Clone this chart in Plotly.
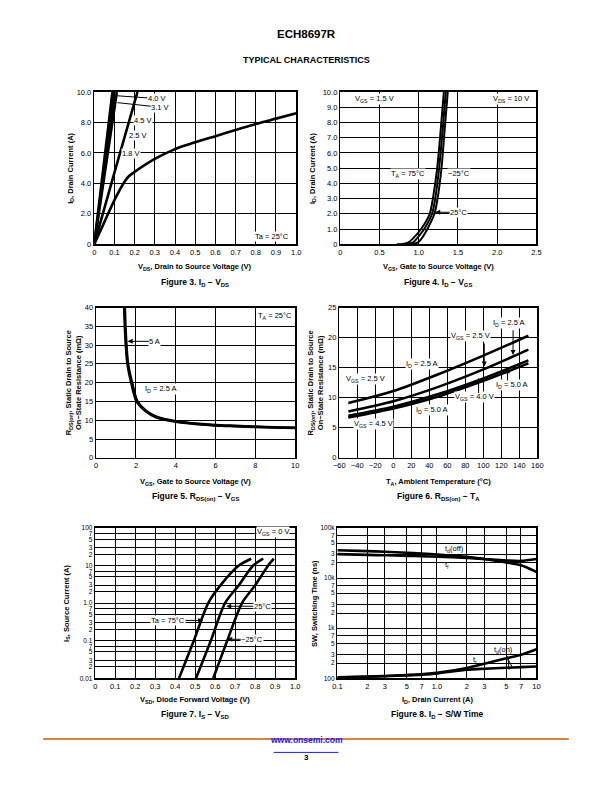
import plotly.graph_objects as go

FONT = "Liberation Sans, Arial, Helvetica, sans-serif"
W, H = 612, 792

# ---------------- DATA ----------------
# Figure 3: ID - VDS (Ta = 25 C)
f3_vds_18 = [0, 0.05, 0.10, 0.15, 0.17, 0.20, 0.30, 0.40, 0.50, 0.60, 0.70, 0.80, 0.90, 1.00]
f3_id_18 = [0, 1.45, 2.9, 4.1, 4.45, 4.75, 5.6, 6.25, 6.7, 7.1, 7.5, 7.9, 8.25, 8.6]
f3_vds_25 = [0, 0.10, 0.20, 0.214]
f3_id_25 = [0, 4.7, 9.35, 10.0]
f3_vds_31 = [0, 0.112]
f3_id_31 = [0, 10.0]
f3_vds_40 = [0, 0.100]
f3_id_40 = [0, 10.0]
f3_vds_45 = [0, 0.090]
f3_id_45 = [0, 10.0]

# Figure 4: ID - VGS (VDS = 10 V)
f4_id = [0, 0.02, 0.12, 0.4, 1.0, 2.0, 3.0, 5.0, 7.5, 10.0]
f4_vgs_75 = [0.72, 0.80, 0.87, 0.93, 1.03, 1.14, 1.18, 1.235, 1.28, 1.32]
f4_vgs_25 = [0.78, 0.86, 0.93, 0.98, 1.07, 1.17, 1.21, 1.26, 1.305, 1.345]
f4_vgs_m25 = [0.84, 0.92, 0.99, 1.04, 1.11, 1.20, 1.24, 1.29, 1.33, 1.37]

# Figure 5: RDS(on) - VGS
f5_vgs_5a = [1.44, 1.47, 1.52, 1.60, 1.80, 2.07, 2.5, 3, 4, 5, 6, 7, 8, 9, 10]
f5_r_5a = [40, 35, 30, 25, 20, 15, 12.5, 11, 9.7, 9.1, 8.7, 8.5, 8.3, 8.1, 8.0]
f5_vgs_25a = [1.41, 1.44, 1.49, 1.57, 1.76, 2.03, 2.46, 3, 4, 5, 6, 7, 8, 9, 10]
f5_r_25a = [40, 35, 30, 25, 20, 15, 12.5, 10.8, 9.6, 9.0, 8.6, 8.4, 8.2, 8.05, 7.95]

# Figure 6: RDS(on) - TA
f6_ta = [-50, 0, 50, 100, 150]
f6_r_a = [9.1, 11.1, 13.9, 17.0, 20.3]
f6_r_b = [7.7, 9.4, 11.8, 14.7, 18.0]
f6_r_c = [7.0, 8.5, 10.6, 13.2, 16.2]
f6_r_d = [6.7, 8.2, 10.2, 12.8, 15.7]

# Figure 7: IS - VSD (VGS = 0 V)
f7_is = [0.01, 0.1, 1.0, 3.0, 10.0, 15.2]
f7_vsd_75 = [0.419, 0.493, 0.565, 0.627, 0.718, 0.78]
f7_vsd_25 = [0.504, 0.578, 0.649, 0.718, 0.79, 0.84]
f7_vsd_m25 = [0.59, 0.66, 0.734, 0.80, 0.865, 0.893]

# Figure 8: ID - S/W time
f8_id = [0.1, 0.2, 0.3, 0.5, 0.7, 1, 2, 3, 5, 7, 10]
f8_t_a = [36000, 34500, 33500, 32000, 31000, 29500, 26500, 24000, 20500, 18000, 13300]
f8_t_b = [30000, 29000, 28500, 27800, 27300, 26800, 25300, 24000, 22500, 22000, 24000]
f8_t_c = [104, 108, 111, 116, 120, 128, 160, 195, 250, 295, 380]
f8_t_d = [103, 107, 110, 114, 118, 125, 148, 155, 162, 167, 172]

# tick labels
f3_xt = [0, 0.1, 0.2, 0.3, 0.4, 0.5, 0.6, 0.7, 0.8, 0.9, 1.0]
f3_xl = ["0", "0.1", "0.2", "0.3", "0.4", "0.5", "0.6", "0.7", "0.8", "0.9", "1.0"]
f3_yt = [0, 2, 4, 6, 8, 10]
f3_yl = ["0", "2.0", "4.0", "6.0", "8.0", "10.0"]
f4_xt = [0, 0.5, 1.0, 1.5, 2.0, 2.5]
f4_xl = ["0", "0.5", "1.0", "1.5", "2.0", "2.5"]
f4_yt = [0, 1, 2, 3, 4, 5, 6, 7, 8, 9, 10]
f4_yl = ["0", "1.0", "2.0", "3.0", "4.0", "5.0", "6.0", "7.0", "8.0", "9.0", "10.0"]
f7_yt = [0.01, 0.02, 0.03, 0.05, 0.07, 0.1, 0.2, 0.3, 0.5, 0.7, 1, 2, 3, 5, 7,
         10, 20, 30, 50, 70, 100]
f7_yl = ["0.01", "2", "3", "5", "7", "0.1", "2", "3", "5", "7", "1.0", "2", "3", "5", "7",
         "10", "2", "3", "5", "7", "100"]
f8_xt = [0.1, 0.2, 0.3, 0.5, 0.7, 1, 2, 3, 5, 7, 10]
f8_xl = ["0.1", "2", "3", "5", "7", "1.0", "2", "3", "5", "7", "10"]
f8_yt = [100, 200, 300, 500, 700, 1000, 2000, 3000, 5000, 7000, 10000,
         20000, 30000, 50000, 70000, 100000]
f8_yl = ["100", "2", "3", "5", "7", "1k", "2", "3", "5", "7", "10k", "2", "3", "5", "7", "100k"]

# ---------------- LAYOUT HELPERS ----------------
def px(x):
    return x / W

def py(y):
    return 1 - y / H

boxes = [
    (90, 296, 89, 243),
    (341, 541, 89, 243),
    (92, 295, 307, 459),
    (340, 542, 307, 459),
    (91, 295, 530, 682),
    (338, 541, 530, 682),
]

def ax_common(fs=7.5):
    return dict(showgrid=True, gridcolor="black", gridwidth=1, showline=True,
                linecolor="black", linewidth=1.5, mirror=True, ticks="",
                zeroline=False, fixedrange=True,
                tickfont=dict(family=FONT, size=fs, color="black"))

fig = go.Figure()

def line(xs, ys, k, w=2.6):
    fig.add_trace(go.Scatter(x=xs, y=ys, mode="lines",
                             line=dict(color="black", width=w, shape="spline", smoothing=0.8),
                             xaxis="x" + ("" if k == 1 else str(k)),
                             yaxis="y" + ("" if k == 1 else str(k)),
                             showlegend=False, hoverinfo="skip"))

line(f3_vds_18, f3_id_18, 1)
line(f3_vds_25, f3_id_25, 1)
line(f3_vds_31, f3_id_31, 1)
line(f3_vds_40, f3_id_40, 1)
line(f3_vds_45, f3_id_45, 1)

line(f4_vgs_75, f4_id, 2, 2)
line(f4_vgs_25, f4_id, 2, 2)
line(f4_vgs_m25, f4_id, 2, 2)

line(f5_vgs_5a, f5_r_5a, 3)
line(f5_vgs_25a, f5_r_25a, 3)

line(f6_ta, f6_r_a, 4)
line(f6_ta, f6_r_b, 4)
line(f6_ta, f6_r_c, 4)
line(f6_ta, f6_r_d, 4)

line(f7_vsd_75, f7_is, 5)
line(f7_vsd_25, f7_is, 5)
line(f7_vsd_m25, f7_is, 5)

line(f8_id, f8_t_a, 6)
line(f8_id, f8_t_b, 6)
line(f8_id, f8_t_c, 6)
line(f8_id, f8_t_d, 6)

layout = dict(width=W, height=H, margin=dict(l=0, r=0, t=0, b=0),
              paper_bgcolor="white", plot_bgcolor="white", showlegend=False)

axis_specs = [
    (dict(range=[0, 1.0], tickvals=f3_xt, ticktext=f3_xl),
     dict(range=[0, 10], tickvals=f3_yt, ticktext=f3_yl)),
    (dict(range=[0, 2.5], tickvals=f4_xt, ticktext=f4_xl),
     dict(range=[0, 10], tickvals=f4_yt, ticktext=f4_yl)),
    (dict(range=[0, 10], dtick=2, tick0=0),
     dict(range=[0, 40], dtick=5, tick0=0)),
    (dict(range=[-60, 160], dtick=20, tick0=-60),
     dict(range=[0, 25], dtick=5, tick0=0)),
    (dict(range=[0, 1.0], tickvals=f3_xt, ticktext=f3_xl),
     dict(type="log", range=[-2, 2], tickvals=f7_yt, ticktext=f7_yl,
          tickfont=dict(family=FONT, size=6.5, color="black"))),
    (dict(type="log", range=[-1, 1], tickvals=f8_xt, ticktext=f8_xl),
     dict(type="log", range=[2, 5], tickvals=f8_yt, ticktext=f8_yl,
          tickfont=dict(family=FONT, size=6.5, color="black"))),
]

for i, ((x0, x1, y0, y1), (xs, ys)) in enumerate(zip(boxes, axis_specs), start=1):
    sx = "" if i == 1 else str(i)
    xa = ax_common(); xa.update(xs)
    ya = ax_common(); ya.update(ys)
    xa.update(domain=[px(x0), px(x1)], anchor="y" + sx)
    ya.update(domain=[py(y1), py(y0)], anchor="x" + sx)
    layout["xaxis" + sx] = xa
    layout["yaxis" + sx] = ya

fig.update_layout(**layout)

ann = []

def T(xr, yr, x, y, s, size=7.5, bg=True, bold=False, angle=0, xanchor="center"):
    ann.append(dict(xref=xr, yref=yr, x=x, y=y, text=("<b>%s</b>" % s) if bold else s,
                    showarrow=False, textangle=angle, xanchor=xanchor, yanchor="middle",
                    font=dict(family=FONT, size=size, color="black"),
                    bgcolor="white" if bg else "rgba(0,0,0,0)", borderpad=0))

def A(xr, yr, tx, ty, hx, hy, s="", head=2, bg=True):
    ann.append(dict(xref=xr, yref=yr, x=hx, y=hy, ax=tx, ay=ty, axref=xr, ayref=yr,
                    text=s, showarrow=True, arrowhead=head, arrowsize=1, arrowwidth=1,
                    arrowcolor="black", standoff=0, startstandoff=0,
                    font=dict(family=FONT, size=7.5, color="black"),
                    bgcolor="white" if (bg and s) else "rgba(0,0,0,0)", borderpad=0))

# Figure 3 labels
A("x", "y", 0.31, 9.57, 0.115, 9.75, "4.0 V", head=0)
A("x", "y", 0.327, 9.0, 0.115, 9.3, "3.1 V", head=0)
T("x", "y", 0.19, 8.14, "4.5 V", xanchor="left")
T("x", "y", 0.165, 7.13, "2.5 V", xanchor="left")
T("x", "y", 0.135, 5.98, "1.8 V", xanchor="left")
T("x", "y", 0.88, 0.54, "Ta = 25°C")

# Figure 4 labels
T("x2", "y2", 0.44, 9.57, "V<sub>GS</sub> = 1.5 V")
T("x2", "y2", 2.18, 9.57, "V<sub>DS</sub> = 10 V")
T("x2", "y2", 0.86, 4.64, "T<sub>A</sub> = 75°C")
T("x2", "y2", 1.51, 4.64, "−25°C")
A("x2", "y2", 1.51, 2.1, 1.21, 2.1, "25°C")

# Figure 5 labels
A("x3", "y3", 2.95, 31.0, 1.58, 31.0, "5 A")
T("x3", "y3", 3.27, 18.4, "I<sub>D</sub> = 2.5 A")
T("x3", "y3", 8.99, 37.8, "T<sub>A</sub> = 25°C")

# Figure 6 labels
T("x4", "y4", 129, 22.4, "I<sub>D</sub> = 2.5 A")
A("x4", "y4", 133, 21.3, 133, 17.1)
T("x4", "y4", 85.8, 20.2, "V<sub>GS</sub> = 2.5 V")
A("x4", "y4", 101, 19.1, 101, 15.2)
T("x4", "y4", 31.6, 15.6, "I<sub>D</sub> = 2.5 A")
T("x4", "y4", -30.8, 13.1, "V<sub>GS</sub> = 2.5 V")
T("x4", "y4", 131.4, 12.1, "I<sub>D</sub> = 5.0 A")
A("x4", "y4", 126.8, 12.8, 126.8, 14.9)
T("x4", "y4", 90.4, 10.1, "V<sub>GS</sub> = 4.0 V")
A("x4", "y4", 94.7, 10.7, 94.7, 13.3)
T("x4", "y4", 43, 7.9, "I<sub>D</sub> = 5.0 A")
T("x4", "y4", -21.9, 5.6, "V<sub>GS</sub> = 4.5 V")

# Figure 7 labels (log y -> log10 coords)
T("x5", "y5", 0.89, 1.894, "V<sub>GS</sub> = 0 V")
A("x5", "y5", 0.835, -0.083, 0.655, -0.083, "25°C")
A("x5", "y5", 0.365, -0.46, 0.54, -0.46, "Ta = 75°C")
A("x5", "y5", 0.785, -0.963, 0.66, -0.963, "−25°C")

# Figure 8 labels (log-log)
T("x6", "y6", 0.172, 4.585, "t<sub>d</sub>(off)", bg=False)
T("x6", "y6", 0.10, 4.255, "t<sub>f</sub>", bg=False)
T("x6", "y6", 0.665, 2.56, "t<sub>d</sub>(on)", bg=False)
T("x6", "y6", 0.382, 2.37, "t<sub>r</sub>", bg=False)
A("x6", "y6", 0.711, 2.45, 0.727, 2.17, head=0)
A("x6", "y6", 0.711, 2.40, 0.76, 2.21, head=0)

# Axis titles (paper coords)
xt = [
    (193, 266, "V<sub>DS</sub>, Drain to Source Voltage (V)"),
    (441, 266, "V<sub>GS</sub>, Gate to Source Voltage (V)"),
    (193, 483, "V<sub>GS</sub>, Gate to Source Voltage (V)"),
    (441, 483, "T<sub>A</sub>, Ambient Temperature (°C)"),
    (193, 704, "V<sub>SD</sub>, Diode Forward Voltage (V)"),
    (440, 704, "I<sub>D</sub>, Drain Current (A)"),
]
for x, y, s in xt:
    T("paper", "paper", px(x), py(y), s, size=7.5, bg=False, bold=True)

yt = [
    (66, 166, "I<sub>D</sub>, Drain Current (A)"),
    (313, 166, "I<sub>D</sub>, Drain Current (A)"),
    (69, 383, "R<sub>DS(on)</sub>, Static Drain to Source<br>On−State Resistance (mΩ)"),
    (316, 383, "R<sub>DS(on)</sub>, Static Drain to Source<br>On−State Resistance (mΩ)"),
    (62, 606, "I<sub>S</sub>, Source Current (A)"),
    (314, 606, "SW, Switching Time (ns)"),
]
for x, y, s in yt:
    T("paper", "paper", px(x), py(y), s, size=7.5, bg=False, bold=True, angle=-90)

caps = [
    (193, 282, "Figure 3. I<sub>D</sub> − V<sub>DS</sub>"),
    (441, 282, "Figure 4. I<sub>D</sub> − V<sub>GS</sub>"),
    (193, 498, "Figure 5. R<sub>DS(on)</sub> − V<sub>GS</sub>"),
    (441, 498, "Figure 6. R<sub>DS(on)</sub> − T<sub>A</sub>"),
    (193, 719, "Figure 7. I<sub>S</sub> − V<sub>SD</sub>"),
    (440, 719, "Figure 8. I<sub>D</sub> − S/W Time"),
]
for x, y, s in caps:
    T("paper", "paper", px(x), py(y), s, size=8.5, bg=False, bold=True)

T("paper", "paper", 0.5, py(30), "ECH8697R", size=11.5, bg=False, bold=True)
T("paper", "paper", 0.5, py(57), "TYPICAL CHARACTERISTICS", size=9, bg=False, bold=True)
ann.append(dict(xref="paper", yref="paper", x=0.5, y=py(752), showarrow=False,
                text="<b>www.onsemi.com</b>",
                font=dict(family=FONT, size=8.5, color="#1a1aff")))
T("paper", "paper", 0.5, py(762.5), "3", size=8, bg=False, bold=True)

fig.update_layout(annotations=ann)

fig.update_layout(shapes=[
    dict(type="line", xref="paper", yref="paper", x0=px(38), x1=px(574),
         y0=py(743.5), y1=py(743.5), line=dict(color="#D9823B", width=2)),
    dict(type="line", xref="paper", yref="paper", x0=px(273), x1=px(339),
         y0=py(757), y1=py(757), line=dict(color="#1a1aff", width=1)),
])

fig.write_html("out.html",
               config={"displayModeBar": False, "staticPlot": True},
               post_script="document.body.style.margin='0';document.body.style.overflow='hidden';")
